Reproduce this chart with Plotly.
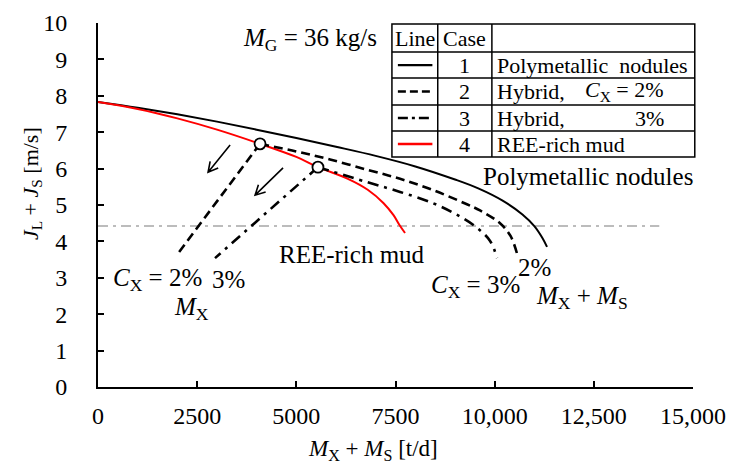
import numpy as np
import plotly.graph_objects as go

# ---- data -------------------------------------------------------------
# Case 1: polymetallic nodules
nod_x = [0, 1000, 2000, 3000, 4000, 5000, 6000, 7000, 8000, 9000, 9600, 10200, 10700, 11000, 11200, 11320]
nod_y = [7.83, 7.67, 7.49, 7.29, 7.07, 6.84, 6.60, 6.35, 6.06, 5.70, 5.45, 5.12, 4.74, 4.42, 4.10, 3.85]

# Case 4: REE-rich mud
mud_x = [0, 1000, 2000, 3000, 4085, 5000, 5545, 6300, 6800, 7200, 7450, 7600, 7740]
mud_y = [7.83, 7.64, 7.38, 7.07, 6.68, 6.32, 6.04, 5.72, 5.42, 5.05, 4.72, 4.45, 4.23]

# Case 2: hybrid, C_X = 2 %  (M_X + M_S branch, starting at the junction with the mud curve)
h2_x = [4085, 5000, 5850, 6780, 7615, 8445, 9300, 9630, 10135, 10400, 10560]
h2_y = [6.68, 6.47, 6.25, 5.97, 5.72, 5.41, 5.02, 4.85, 4.50, 4.15, 3.68]
# M_X branch (straight)
h2_mx_x = [4085, 1990]
h2_mx_y = [6.68, 3.63]

# Case 3: hybrid, C_X = 3 %
h3_x = [5545, 6780, 7615, 8445, 9000, 9500, 9880, 10060]
h3_y = [6.04, 5.63, 5.36, 5.05, 4.76, 4.42, 4.02, 3.54]
h3_mx_x = [5545, 2950]
h3_mx_y = [6.04, 3.54]

# junction points
junc_x = [h2_x[0], h3_x[0]]
junc_y = [h2_y[0], h3_y[0]]

# reference velocity level
ref_level = 4.42
ref_x = [0, 14150]

x_ticks = [0, 2500, 5000, 7500, 10000, 12500, 15000]
x_tick_text = ["0", "2500", "5000", "7500", "10,000", "12,500", "15,000"]
y_ticks = list(range(0, 11))

FONT = "Times New Roman, Liberation Serif, Tinos, serif"
X_RANGE = [0, 15000]
Y_RANGE = [0, 10]
PLOT_W, PLOT_H = 595, 364  # plot-area size in px

fig = go.Figure()

DASH2 = "9px,5px"
DASH3 = "11px,6px,3px,6px"

fig.add_trace(go.Scatter(x=ref_x, y=[ref_level, ref_level], mode="lines",
                         line=dict(color="#a6a6a6", width=1.5, dash="10px,5px,3px,5px")))
fig.add_trace(go.Scatter(x=nod_x, y=nod_y, mode="lines", line_shape="spline",
                         line=dict(color="black", width=2)))
fig.add_trace(go.Scatter(x=mud_x, y=mud_y, mode="lines", line_shape="spline",
                         line=dict(color="#ff0000", width=2)))
fig.add_trace(go.Scatter(x=h2_x, y=h2_y, mode="lines", line_shape="spline",
                         line=dict(color="black", width=2.6, dash=DASH2)))
fig.add_trace(go.Scatter(x=h2_mx_x, y=h2_mx_y, mode="lines",
                         line=dict(color="black", width=2.6, dash=DASH2)))
fig.add_trace(go.Scatter(x=h3_x, y=h3_y, mode="lines", line_shape="spline",
                         line=dict(color="black", width=2.6, dash=DASH3)))
fig.add_trace(go.Scatter(x=h3_mx_x, y=h3_mx_y, mode="lines",
                         line=dict(color="black", width=2.6, dash=DASH3)))
fig.add_trace(go.Scatter(x=junc_x, y=junc_y, mode="markers",
                         marker=dict(symbol="circle", size=11, color="white",
                                     line=dict(color="black", width=1.8))))

# ---- open V arrows showing the shift of the M_X branch --------------
sx = PLOT_W / (X_RANGE[1] - X_RANGE[0])
sy = PLOT_H / (Y_RANGE[1] - Y_RANGE[0])


def arrow_path(x0, y0, x1, y1, head=11, ang=np.radians(28)):
    dx, dy = (x1 - x0) * sx, (y1 - y0) * sy
    th = np.arctan2(dy, dx)
    pts = []
    for s in (1, -1):
        a = th + np.pi + s * ang
        pts.append((x1 + head * np.cos(a) / sx, y1 + head * np.sin(a) / sy))
    return (f"M{x0},{y0} L{x1},{y1} M{pts[0][0]},{pts[0][1]} L{x1},{y1} "
            f"L{pts[1][0]},{pts[1][1]}")


for (x0, y0, x1, y1) in [(3330, 6.65, 2775, 5.90), (4665, 6.02, 3960, 5.27)]:
    fig.add_shape(type="path", xref="x", yref="y", path=arrow_path(x0, y0, x1, y1),
                  line=dict(color="black", width=1.6))


def label(x, y, text, size=25, xref="x", yref="y", xanchor="center", **kw):
    fig.add_annotation(x=x, y=y, xref=xref, yref=yref, text=text, showarrow=False,
                       xanchor=xanchor, yanchor="middle",
                       font=dict(family=FONT, size=size, color="black"), **kw)


# ---- in-plot labels ---------------------------------------------------
labels = [
    (5345, 9.56, "<i>M</i><sub>G</sub> = 36 kg/s"),
    (1490, 2.94, "<i>C</i><sub>X</sub> = 2%"),
    (3300, 2.94, "3%"),
    (2345, 2.17, "<i>M</i><sub>X</sub>"),
    (6400, 3.63, "REE-rich mud"),
    (12350, 5.77, "Polymetallic nodules"),
    (11015, 3.27, "2%"),
    (9505, 2.75, "<i>C</i><sub>X</sub> = 3%"),
    (12200, 2.45, "<i>M</i><sub>X</sub> + <i>M</i><sub>S</sub>"),
]
for x, y, t in labels:
    label(x, y, t)

# ---- legend drawn as a table ------------------------------------------
col_x = [0.494, 0.571, 0.662, 1.003]
row_y = [0.997, 0.920, 0.849, 0.775, 0.703, 0.632]
tbl = dict(xref="paper", yref="paper", line=dict(color="black", width=1.5))
fig.add_shape(type="rect", x0=col_x[0], x1=col_x[-1], y0=row_y[-1], y1=row_y[0], **tbl)
for yy in row_y[1:-1]:
    fig.add_shape(type="line", x0=col_x[0], x1=col_x[-1], y0=yy, y1=yy, **tbl)
for xx in col_x[1:-1]:
    fig.add_shape(type="line", x0=xx, x1=xx, y0=row_y[-1], y1=row_y[0], **tbl)

leg_styles = [
    dict(color="black", width=2.2, dash="solid"),
    dict(color="black", width=2.6, dash="8px,4px"),
    dict(color="black", width=2.6, dash="10px,4px,3px,4px"),
    dict(color="#ff0000", width=2.6, dash="solid"),
]
cases = ["1", "2", "3", "4"]
descs = ["Polymetallic  nodules", "Hybrid,", "Hybrid,", "REE-rich mud"]
conc = [None, "<i>C</i><sub>X</sub> = 2%", "3%", None]
P = dict(xref="paper", yref="paper", size=22)
hdr_y = (row_y[0] + row_y[1]) / 2
label((col_x[0] + col_x[1]) / 2, hdr_y, "Line", **P)
label((col_x[1] + col_x[2]) / 2, hdr_y, "Case", **P)
for i in range(4):
    yc = (row_y[i + 1] + row_y[i + 2]) / 2
    fig.add_shape(type="line", xref="paper", yref="paper", x0=0.504, x1=0.562,
                  y0=yc, y1=yc, line=leg_styles[i])
    label((col_x[1] + col_x[2]) / 2, yc, cases[i], **P)
    label(0.668, yc, descs[i], xanchor="left", **P)
    if conc[i]:
        label(0.955, yc, conc[i], xanchor="right", **P)

# ---- axis titles --------------------------------------------------------
label(-0.111, 0.56, "<i>J</i><sub>L</sub> + <i>J</i><sub>S</sub> [m/s]",
      xref="paper", yref="paper", size=22, textangle=-90)
label(0.462, -0.172, "<i>M</i><sub>X</sub> + <i>M</i><sub>S</sub> [t/d]",
      xref="paper", yref="paper", size=23)

fig.update_layout(
    width=729, height=468,
    margin=dict(l=98, r=36, t=23, b=81),
    paper_bgcolor="white", plot_bgcolor="white",
    showlegend=False,
    font=dict(family=FONT, size=24, color="black"),
    xaxis=dict(range=X_RANGE, tickvals=x_ticks, ticktext=x_tick_text,
               automargin=False,
               showgrid=False, zeroline=False, showline=True, linecolor="black",
               linewidth=1.8, ticks="inside", ticklen=6, tickwidth=1.8,
               tickcolor="black", ticklabelstandoff=6,
               tickfont=dict(family=FONT, size=24)),
    yaxis=dict(range=Y_RANGE, tickvals=y_ticks,
               automargin=False,
               showgrid=False, zeroline=False, showline=True, linecolor="black",
               linewidth=1.8, ticks="inside", ticklen=6, tickwidth=1.8,
               tickcolor="black", ticklabelstandoff=24,
               tickfont=dict(family=FONT, size=24)),
)

fig.write_html("out.html")
